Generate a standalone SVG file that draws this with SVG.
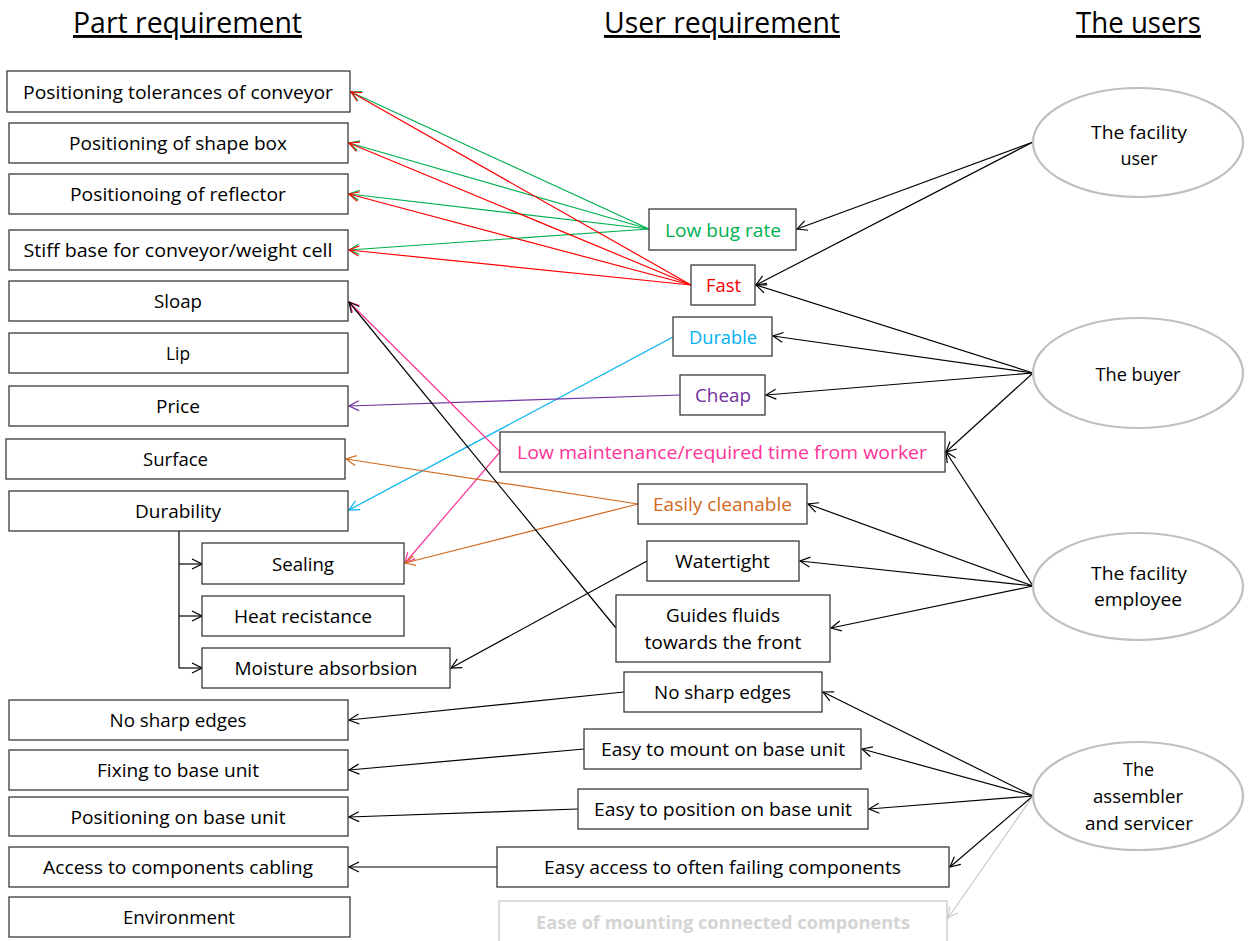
<svg xmlns="http://www.w3.org/2000/svg" width="1252" height="941" viewBox="0 0 1252 941">
<style>
  text { font-family: "Open Sans", "Liberation Sans", sans-serif; font-size: 18px; fill: #000; text-anchor: middle; }
  .hd { font-size: 29px; text-decoration: underline; }
  .box { fill: #fff; stroke: #3a3a3a; stroke-width: 1.3; }
  .ell { fill: #fff; stroke: #bfbfbf; stroke-width: 2.2; }
  .c { fill: none; stroke-width: 1.2; }
  .k { stroke: #000; } .g { stroke: #00b050; } .r { stroke: #ff0000; } .b { stroke: #00b0f0; }
  .p { stroke: #7030a0; } .m { stroke: #ff3399; } .o { stroke: #d2691e; } .gr { stroke: #c8c8c8; }
</style>
<defs>
  <marker id="ak" viewBox="0 0 12 12" refX="11" refY="6" markerWidth="12" markerHeight="12" markerUnits="userSpaceOnUse" orient="auto"><path d="M1,1 L11,6 L1,11" fill="none" stroke="#000" stroke-width="1.2"/></marker>
  <marker id="ag" viewBox="0 0 12 12" refX="11" refY="6" markerWidth="12" markerHeight="12" markerUnits="userSpaceOnUse" orient="auto"><path d="M1,1 L11,6 L1,11" fill="none" stroke="#00b050" stroke-width="1.2"/></marker>
  <marker id="ar" viewBox="0 0 12 12" refX="11" refY="6" markerWidth="12" markerHeight="12" markerUnits="userSpaceOnUse" orient="auto"><path d="M1,1 L11,6 L1,11" fill="none" stroke="#ff0000" stroke-width="1.2"/></marker>
  <marker id="ab" viewBox="0 0 12 12" refX="11" refY="6" markerWidth="12" markerHeight="12" markerUnits="userSpaceOnUse" orient="auto"><path d="M1,1 L11,6 L1,11" fill="none" stroke="#00b0f0" stroke-width="1.2"/></marker>
  <marker id="ap" viewBox="0 0 12 12" refX="11" refY="6" markerWidth="12" markerHeight="12" markerUnits="userSpaceOnUse" orient="auto"><path d="M1,1 L11,6 L1,11" fill="none" stroke="#7030a0" stroke-width="1.2"/></marker>
  <marker id="am" viewBox="0 0 12 12" refX="11" refY="6" markerWidth="12" markerHeight="12" markerUnits="userSpaceOnUse" orient="auto"><path d="M1,1 L11,6 L1,11" fill="none" stroke="#ff3399" stroke-width="1.2"/></marker>
  <marker id="ao" viewBox="0 0 12 12" refX="11" refY="6" markerWidth="12" markerHeight="12" markerUnits="userSpaceOnUse" orient="auto"><path d="M1,1 L11,6 L1,11" fill="none" stroke="#d2691e" stroke-width="1.2"/></marker>
  <marker id="agr" viewBox="0 0 12 12" refX="11" refY="6" markerWidth="12" markerHeight="12" markerUnits="userSpaceOnUse" orient="auto"><path d="M1,1 L11,6 L1,11" fill="none" stroke="#c8c8c8" stroke-width="1.2"/></marker>
</defs>
<rect width="1252" height="941" fill="#fff"/>

<g id="headings">
  <text class="hd" x="187.5" y="33" textLength="229" lengthAdjust="spacingAndGlyphs">Part requirement</text>
  <text class="hd" x="722" y="33" textLength="236" lengthAdjust="spacingAndGlyphs">User requirement</text>
  <text class="hd" x="1138.5" y="33" textLength="125" lengthAdjust="spacingAndGlyphs">The users</text>
</g>

<g id="connectors">
  <!-- facility user -->
  <line class="c k" x1="1033" y1="142" x2="797" y2="229" marker-end="url(#ak)"/>
  <line class="c k" x1="1033" y1="142" x2="756" y2="285" marker-end="url(#ak)"/>
  <!-- buyer -->
  <line class="c k" x1="1033" y1="373" x2="756" y2="285" marker-end="url(#ak)"/>
  <line class="c k" x1="1033" y1="373" x2="773" y2="336" marker-end="url(#ak)"/>
  <line class="c k" x1="1033" y1="373" x2="766" y2="395" marker-end="url(#ak)"/>
  <line class="c k" x1="1033" y1="373" x2="946" y2="452" marker-end="url(#ak)"/>
  <!-- facility employee -->
  <line class="c k" x1="1033" y1="586" x2="946" y2="452" marker-end="url(#ak)"/>
  <line class="c k" x1="1033" y1="586" x2="808" y2="504" marker-end="url(#ak)"/>
  <line class="c k" x1="1033" y1="586" x2="800" y2="561" marker-end="url(#ak)"/>
  <line class="c k" x1="1033" y1="586" x2="831" y2="628" marker-end="url(#ak)"/>
  <!-- assembler -->
  <line class="c k" x1="1033" y1="796" x2="823" y2="692" marker-end="url(#ak)"/>
  <line class="c k" x1="1033" y1="796" x2="862" y2="749" marker-end="url(#ak)"/>
  <line class="c k" x1="1033" y1="796" x2="869" y2="809" marker-end="url(#ak)"/>
  <line class="c k" x1="1033" y1="796" x2="950" y2="867" marker-end="url(#ak)"/>
  <line class="c gr" x1="1033" y1="796" x2="948" y2="918" marker-end="url(#agr)"/>
  <!-- low bug rate -->
  <line class="c g" x1="649" y1="229" x2="351" y2="92" marker-end="url(#ag)"/>
  <line class="c g" x1="649" y1="229" x2="349" y2="143" marker-end="url(#ag)"/>
  <line class="c g" x1="649" y1="229" x2="349" y2="194" marker-end="url(#ag)"/>
  <line class="c g" x1="649" y1="229" x2="349" y2="250" marker-end="url(#ag)"/>
  <!-- fast -->
  <line class="c r" x1="691" y1="285" x2="351" y2="92" marker-end="url(#ar)"/>
  <line class="c r" x1="691" y1="285" x2="349" y2="143" marker-end="url(#ar)"/>
  <line class="c r" x1="691" y1="285" x2="349" y2="194" marker-end="url(#ar)"/>
  <line class="c r" x1="691" y1="285" x2="349" y2="250" marker-end="url(#ar)"/>
  <!-- durable, cheap -->
  <line class="c b" x1="673" y1="337" x2="349" y2="510" marker-end="url(#ab)"/>
  <line class="c p" x1="680" y1="395" x2="349" y2="406" marker-end="url(#ap)"/>
  <!-- low maintenance -->
  <line class="c m" x1="500" y1="452" x2="349" y2="302" marker-end="url(#am)"/>
  <line class="c m" x1="500" y1="452" x2="405" y2="563" marker-end="url(#am)"/>
  <!-- easily cleanable -->
  <line class="c o" x1="638" y1="504" x2="346" y2="459" marker-end="url(#ao)"/>
  <line class="c o" x1="638" y1="504" x2="405" y2="563" marker-end="url(#ao)"/>
  <!-- watertight, guides -->
  <line class="c k" x1="647" y1="561" x2="451" y2="668" marker-end="url(#ak)"/>
  <line class="c k" x1="616" y1="628" x2="349" y2="302" marker-end="url(#ak)"/>
  <!-- bottom group -->
  <line class="c k" x1="624" y1="692" x2="349" y2="720" marker-end="url(#ak)"/>
  <line class="c k" x1="584" y1="749" x2="349" y2="770" marker-end="url(#ak)"/>
  <line class="c k" x1="578" y1="809" x2="349" y2="817" marker-end="url(#ak)"/>
  <line class="c k" x1="497" y1="867" x2="349" y2="867" marker-end="url(#ak)"/>
  <!-- durability tree -->
  <polyline class="c k" points="179,531 179,668"/>
  <line class="c k" x1="179" y1="564" x2="202" y2="564" marker-end="url(#ak)"/>
  <line class="c k" x1="179" y1="616" x2="202" y2="616" marker-end="url(#ak)"/>
  <line class="c k" x1="179" y1="668" x2="202" y2="668" marker-end="url(#ak)"/>
</g>

<g id="part-tolerances"><rect class="box" x="7" y="71" width="343" height="41"/><text x="178" y="98.5" textLength="310" lengthAdjust="spacingAndGlyphs">Positioning tolerances of conveyor</text></g>
<g id="part-shapebox"><rect class="box" x="9" y="123" width="339" height="40"/><text x="178" y="150" textLength="218" lengthAdjust="spacingAndGlyphs">Positioning of shape box</text></g>
<g id="part-reflector"><rect class="box" x="9" y="174" width="339" height="40"/><text x="178" y="201" textLength="216" lengthAdjust="spacingAndGlyphs">Positionoing of reflector</text></g>
<g id="part-stiffbase"><rect class="box" x="9" y="230" width="339" height="40"/><text x="178" y="257" textLength="309" lengthAdjust="spacingAndGlyphs">Stiff base for conveyor/weight cell</text></g>
<g id="part-sloap"><rect class="box" x="9" y="281" width="339" height="40"/><text x="178" y="308" textLength="48" lengthAdjust="spacingAndGlyphs">Sloap</text></g>
<g id="part-lip"><rect class="box" x="9" y="333" width="339" height="40"/><text x="178" y="360" textLength="24" lengthAdjust="spacingAndGlyphs">Lip</text></g>
<g id="part-price"><rect class="box" x="9" y="386" width="339" height="40"/><text x="178" y="413" textLength="44" lengthAdjust="spacingAndGlyphs">Price</text></g>
<g id="part-surface"><rect class="box" x="6" y="439" width="339" height="40"/><text x="175.5" y="466" textLength="65" lengthAdjust="spacingAndGlyphs">Surface</text></g>
<g id="part-durability"><rect class="box" x="9" y="491" width="339" height="40"/><text x="178" y="518" textLength="86" lengthAdjust="spacingAndGlyphs">Durability</text></g>
<g id="part-sealing"><rect class="box" x="202" y="543" width="202" height="41"/><text x="303" y="570.5" textLength="62" lengthAdjust="spacingAndGlyphs">Sealing</text></g>
<g id="part-heat"><rect class="box" x="202" y="596" width="202" height="40"/><text x="303" y="623" textLength="138" lengthAdjust="spacingAndGlyphs">Heat recistance</text></g>
<g id="part-moisture"><rect class="box" x="202" y="648" width="248" height="40"/><text x="326" y="675" textLength="183" lengthAdjust="spacingAndGlyphs">Moisture absorbsion</text></g>
<g id="part-nosharp"><rect class="box" x="9" y="700" width="339" height="40"/><text x="178" y="727" textLength="137" lengthAdjust="spacingAndGlyphs">No sharp edges</text></g>
<g id="part-fixing"><rect class="box" x="9" y="750" width="339" height="40"/><text x="178" y="777" textLength="162" lengthAdjust="spacingAndGlyphs">Fixing to base unit</text></g>
<g id="part-positioning"><rect class="box" x="9" y="797" width="339" height="39"/><text x="178" y="823.5" textLength="215" lengthAdjust="spacingAndGlyphs">Positioning on base unit</text></g>
<g id="part-access"><rect class="box" x="9" y="847" width="339" height="40"/><text x="178" y="874" textLength="270" lengthAdjust="spacingAndGlyphs">Access to components cabling</text></g>
<g id="part-environment"><rect class="box" x="9" y="897" width="341" height="40"/><text x="179" y="924" textLength="112" lengthAdjust="spacingAndGlyphs">Environment</text></g>

<g id="user-lowbug"><rect class="box" x="649" y="209" width="147" height="41"/><text x="723" y="236.5" textLength="116" lengthAdjust="spacingAndGlyphs" style="fill:#00b050">Low bug rate</text></g>
<g id="user-fast"><rect class="box" x="691" y="265" width="64" height="40"/><text x="723.5" y="292" textLength="35" lengthAdjust="spacingAndGlyphs" style="fill:#ff0000">Fast</text></g>
<g id="user-durable"><rect class="box" x="673" y="317" width="99" height="39"/><text x="723" y="343.5" textLength="68" lengthAdjust="spacingAndGlyphs" style="fill:#00b0f0">Durable</text></g>
<g id="user-cheap"><rect class="box" x="680" y="375" width="85" height="40"/><text x="723" y="402" textLength="56" lengthAdjust="spacingAndGlyphs" style="fill:#7030a0">Cheap</text></g>
<g id="user-lowmaint"><rect class="box" x="500" y="432" width="445" height="40"/><text x="722" y="459" textLength="410" lengthAdjust="spacingAndGlyphs" style="fill:#ff3399">Low maintenance/required time from worker</text></g>
<g id="user-cleanable"><rect class="box" x="638" y="484" width="169" height="40"/><text x="722.5" y="511" textLength="139" lengthAdjust="spacingAndGlyphs" style="fill:#d2691e">Easily cleanable</text></g>
<g id="user-watertight"><rect class="box" x="647" y="541" width="152" height="40"/><text x="722.5" y="568" textLength="95" lengthAdjust="spacingAndGlyphs">Watertight</text></g>
<g id="user-guides"><rect class="box" x="616" y="595" width="214" height="67"/><text x="723" y="622" textLength="114" lengthAdjust="spacingAndGlyphs">Guides fluids</text><text x="723" y="649" textLength="157" lengthAdjust="spacingAndGlyphs">towards the front</text></g>
<g id="user-nosharp"><rect class="box" x="624" y="672" width="198" height="40"/><text x="722.5" y="699" textLength="137" lengthAdjust="spacingAndGlyphs">No sharp edges</text></g>
<g id="user-mount"><rect class="box" x="584" y="729" width="277" height="40"/><text x="723" y="756" textLength="244" lengthAdjust="spacingAndGlyphs">Easy to mount on base unit</text></g>
<g id="user-position"><rect class="box" x="578" y="789" width="290" height="40"/><text x="723" y="816" textLength="258" lengthAdjust="spacingAndGlyphs">Easy to position on base unit</text></g>
<g id="user-access"><rect class="box" x="497" y="847" width="452" height="40"/><text x="722.5" y="874" textLength="357" lengthAdjust="spacingAndGlyphs">Easy access to often failing components</text></g>
<g id="user-easemount"><rect x="499" y="901" width="448" height="50" fill="#fff" stroke="#c8c8c8" stroke-width="1.3"/><text x="723" y="929" textLength="374" lengthAdjust="spacingAndGlyphs" style="fill:#d4d4d4;font-weight:bold">Ease of mounting connected components</text></g>

<g id="who-facilityuser"><ellipse class="ell" cx="1138" cy="142.5" rx="105" ry="54.5"/><text x="1139" y="139" textLength="96" lengthAdjust="spacingAndGlyphs">The facility</text><text x="1139" y="165" textLength="37" lengthAdjust="spacingAndGlyphs">user</text></g>
<g id="who-buyer"><ellipse class="ell" cx="1138" cy="373" rx="105" ry="55"/><text x="1138" y="381" textLength="85" lengthAdjust="spacingAndGlyphs">The buyer</text></g>
<g id="who-employee"><ellipse class="ell" cx="1138" cy="586.5" rx="105" ry="53.5"/><text x="1139" y="580" textLength="96" lengthAdjust="spacingAndGlyphs">The facility</text><text x="1138" y="606" textLength="88" lengthAdjust="spacingAndGlyphs">employee</text></g>
<g id="who-assembler"><ellipse class="ell" cx="1138" cy="796" rx="105" ry="54"/><text x="1138.5" y="776" textLength="31" lengthAdjust="spacingAndGlyphs">The</text><text x="1138" y="803" textLength="90" lengthAdjust="spacingAndGlyphs">assembler</text><text x="1139" y="830" textLength="108" lengthAdjust="spacingAndGlyphs">and servicer</text></g>
</svg>
